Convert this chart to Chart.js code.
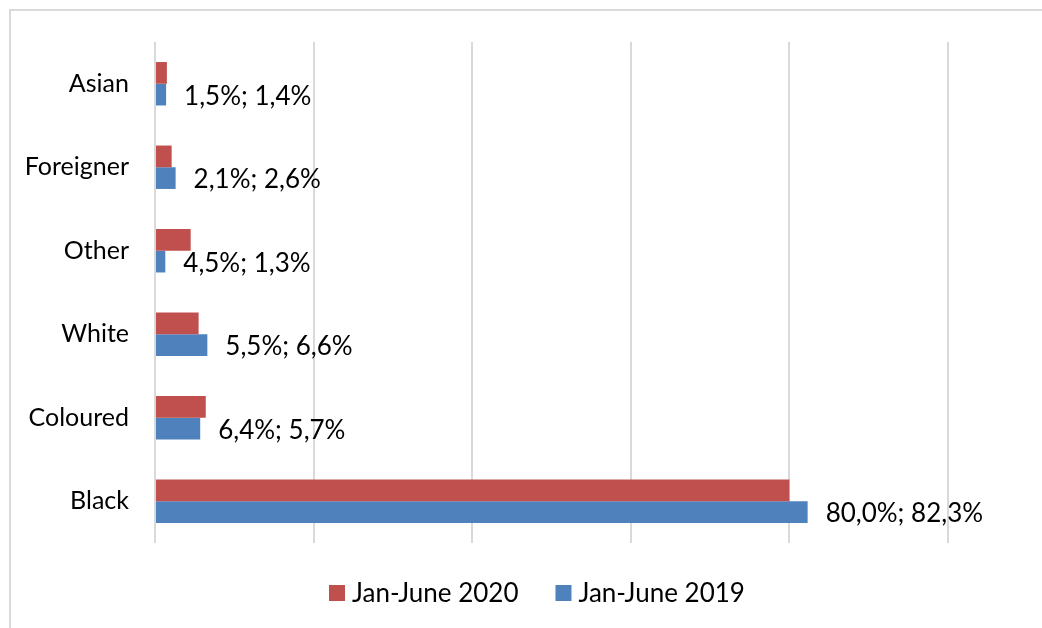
<!DOCTYPE html>
<html>
<head>
<meta charset="utf-8">
<script src="https://cdn.jsdelivr.net/npm/chart.js@4/dist/chart.umd.min.js"></script>
<style>
  body { margin: 0; background: #fff; }
  #frame { position: absolute; left: 9px; top: 9px; width: 1100px; height: 700px;
           border-left: 2px solid #d9d9d9; border-top: 2px solid #d9d9d9; }
  #wrap { position: absolute; left: 0; top: 0; width: 1042px; height: 628px; }
</style>
</head>
<body>
<div id="frame"></div>
<div id="wrap"><canvas id="myChart" width="1042" height="628"></canvas></div>
<script>
// groups, top to bottom
const groups = ['Asian', 'Foreigner', 'Other', 'White', 'Coloured', 'Black'];
const share2020 = [1.5, 2.1, 4.5, 5.5, 6.4, 80.0];
const share2019 = [1.4, 2.6, 1.3, 6.6, 5.7, 82.3];
const seriesNames = ['Jan-June 2020', 'Jan-June 2019'];

const FONT = 'Lato';
const fmt = v => v.toFixed(1).replace('.', ',') + '%';

// "2020; 2019" label to the right of each 2019 bar
const pairLabels = {
    id: 'pairLabels',
    afterDatasetsDraw(chart) {
        const ctx = chart.ctx;
        const meta = chart.getDatasetMeta(1);
        ctx.save();
        ctx.font = '26px ' + FONT;
        ctx.fillStyle = '#000';
        ctx.textAlign = 'left';
        ctx.textBaseline = 'middle';
        meta.data.forEach((bar, i) => {
            ctx.fillText(fmt(share2020[i]) + '; ' + fmt(share2019[i]), bar.x + 18, bar.y + 2);
        });
        ctx.restore();
    }
};

// legend row under the plot: small square, name, next item
const bottomLegend = {
    id: 'bottomLegend',
    afterDraw(chart) {
        const ctx = chart.ctx;
        ctx.save();
        ctx.font = '26px ' + FONT;
        ctx.textAlign = 'left';
        ctx.textBaseline = 'middle';
        let x = 329;
        chart.data.datasets.forEach(ds => {
            ctx.fillStyle = ds.backgroundColor;
            ctx.fillRect(x, 585, 16, 16);
            ctx.fillStyle = '#000';
            ctx.fillText(ds.label, x + 23, 594);
            x += 23 + ctx.measureText(ds.label).width + 37;
        });
        ctx.restore();
    }
};

const ctx = document.getElementById('myChart').getContext('2d');
const myChart = new Chart(ctx, {
    type: 'bar',
    data: {
        labels: groups,
        datasets: [{
            label: seriesNames[0],
            data: share2020,
            backgroundColor: '#c0504d'
        }, {
            label: seriesNames[1],
            data: share2019,
            backgroundColor: '#4f81bd'
        }]
    },
    options: {
        indexAxis: 'y',
        responsive: false,
        animation: false,
        datasets: {
            bar: { categoryPercentage: 0.52, barPercentage: 1 }
        },
        layout: {
            padding: { left: 10, right: 94, top: 42, bottom: 85 }
        },
        scales: {
            x: {
                min: 0,
                max: 100,
                ticks: { display: false, stepSize: 20 },
                grid: { color: '#d9d9d9', lineWidth: 2, drawTicks: false },
                border: { display: false }
            },
            y: {
                grid: { display: false, drawTicks: false },
                border: { display: false },
                ticks: { color: '#000', padding: 26, font: { family: FONT, size: 25 } },
                afterFit(scale) { scale.width = 145; }
            }
        },
        plugins: {
            legend: { display: false },
            tooltip: { enabled: false }
        }
    },
    plugins: [pairLabels, bottomLegend]
});
</script>
</body>
</html>
